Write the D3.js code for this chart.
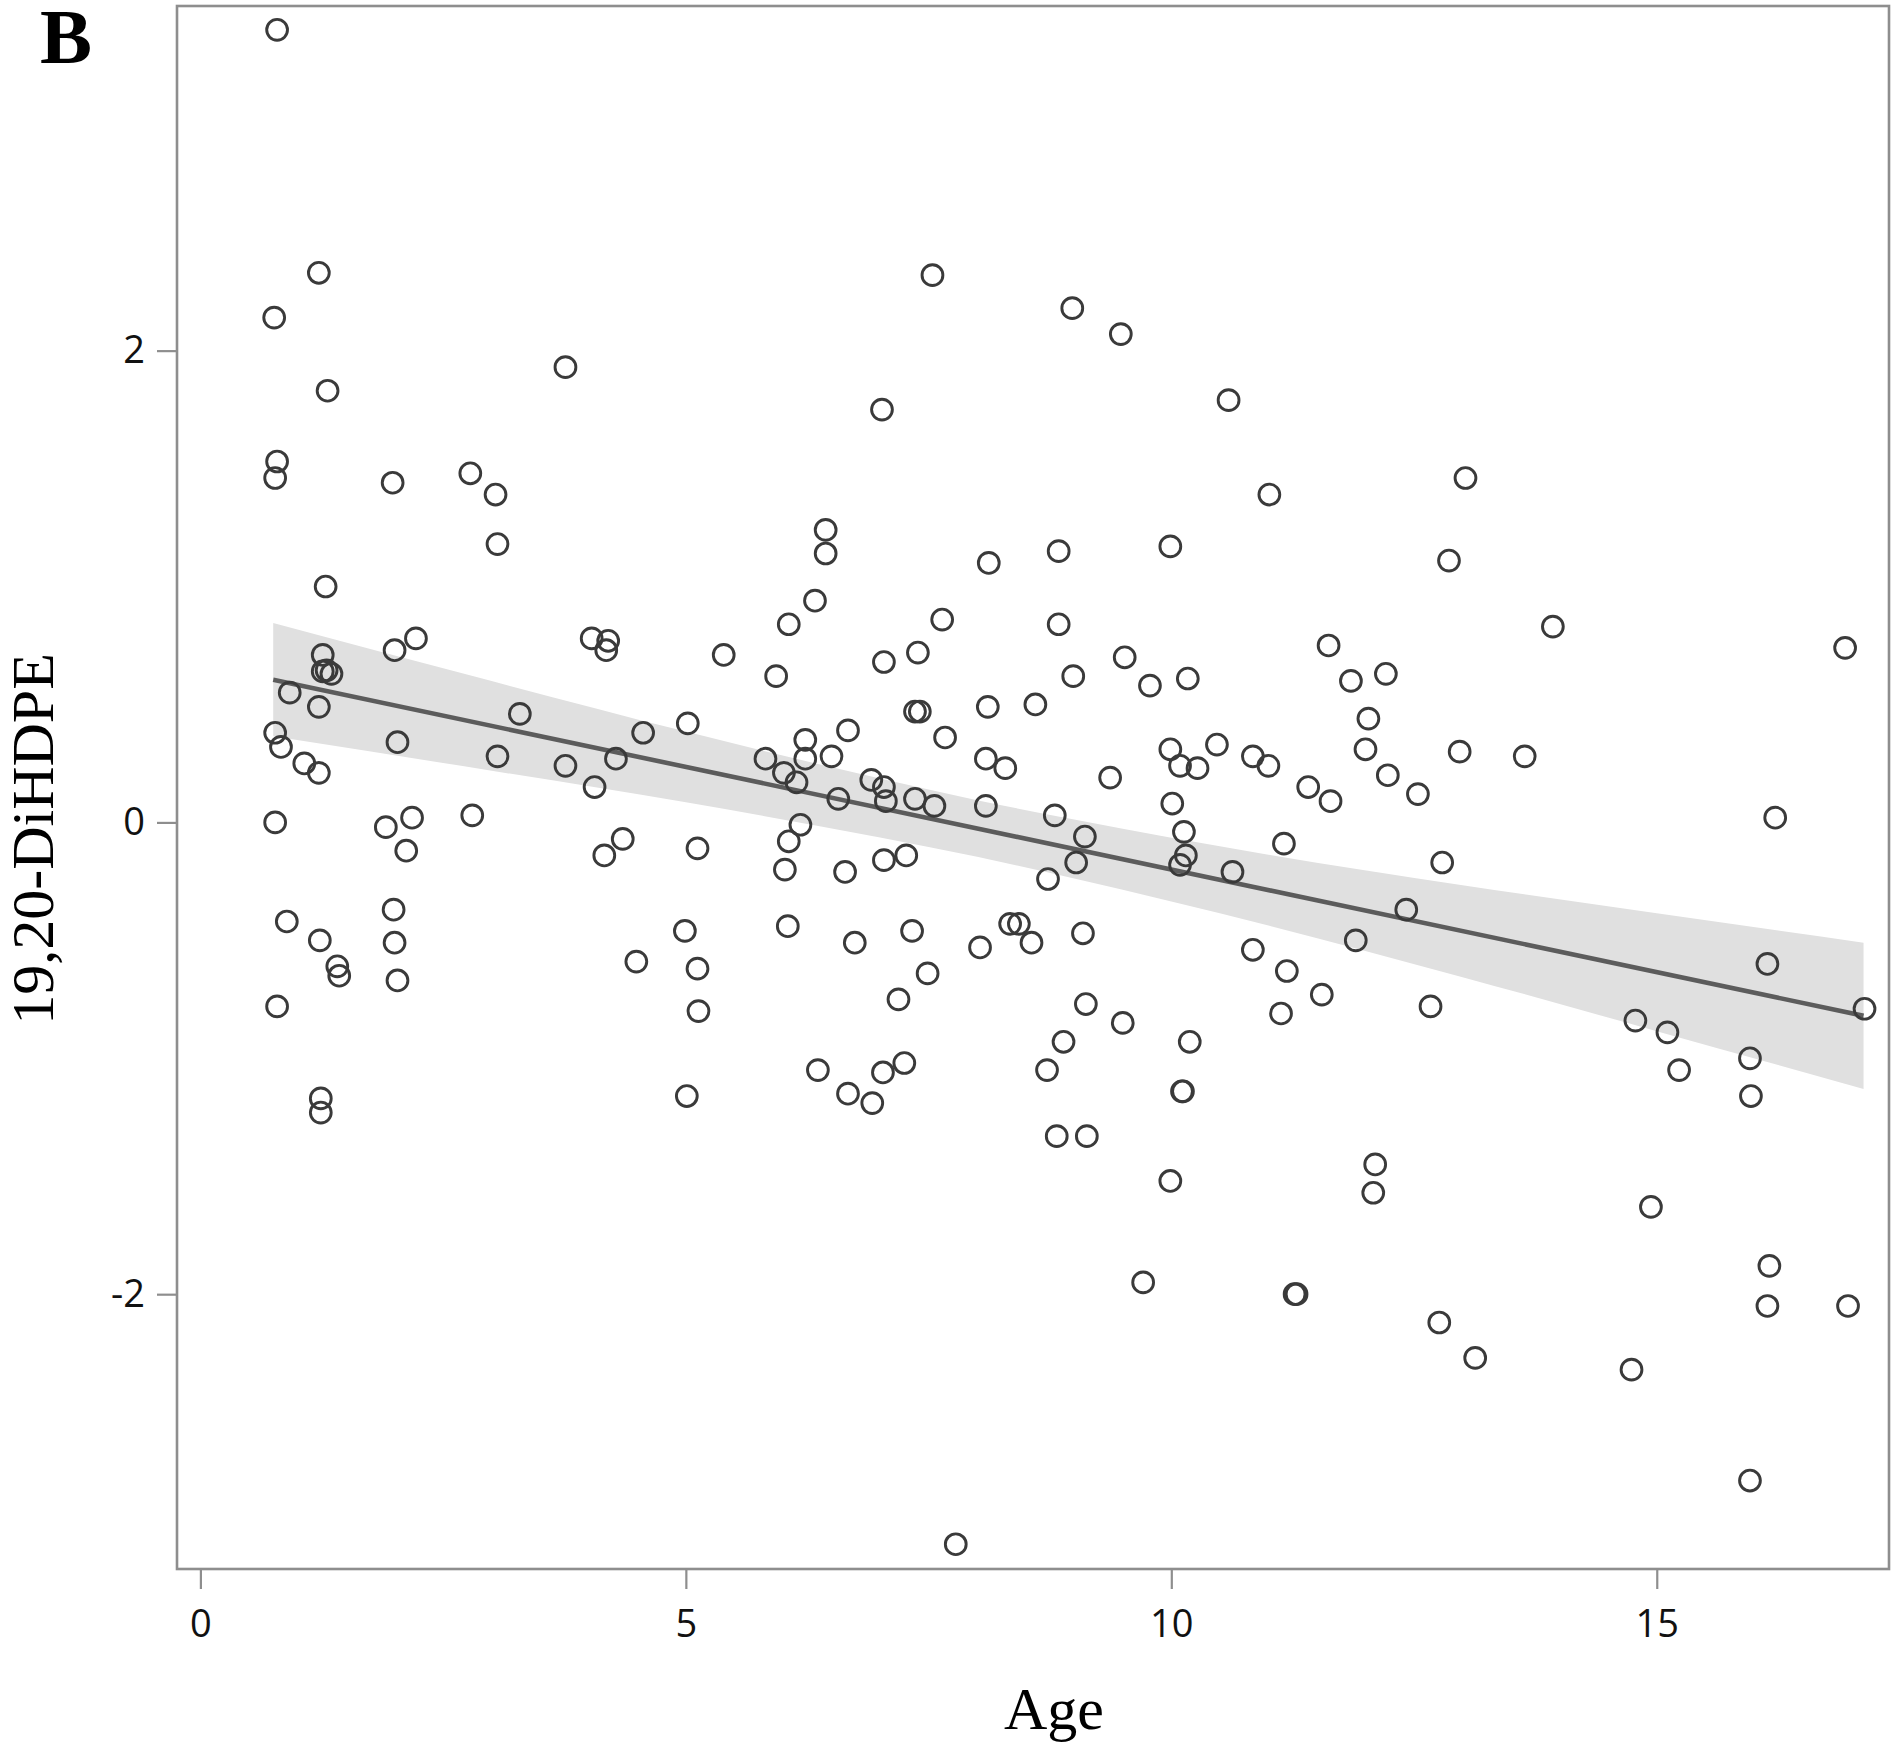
<!DOCTYPE html>
<html>
<head>
<meta charset="utf-8">
<script src="https://cdn.jsdelivr.net/npm/d3@7"></script>
<style>
  html, body { margin: 0; padding: 0; background: #fff; }
  svg { display: block; }
</style>
</head>
<body>
<svg id="chart" width="1902" height="1750"></svg>
<script>
// ---- data ----
const ages = [
  0.79,0.76,0.79,0.77,0.92,0.77,0.83,0.77,0.89,0.79,
  1.07,1.22,1.31,1.29,1.26,1.26,1.35,1.30,1.22,1.22,1.23,1.41,1.43,1.24,1.24,
  1.98,2.00,2.22,2.03,1.91,2.18,2.12,1.99,2.00,2.03,
  2.78,3.04,3.06,3.06,2.80,3.29,
  3.76,3.76,4.03,4.20,4.18,4.06,4.28,4.16,4.35,4.56,4.49,
  5.02,4.99,5.12,5.12,5.13,5.01,5.39,
  5.93,5.82,6.01,6.14,6.06,6.23,6.23,6.18,6.06,6.02,6.05,6.33,6.44,6.44,6.67,6.50,6.57,6.64,6.36,6.67,6.74,
  7.02,7.04,6.91,7.04,7.06,7.04,6.92,7.03,7.25,7.19,7.33,7.27,7.39,7.36,7.41,7.36,7.56,7.49,7.54,7.64,7.67,7.78,8.03,
  8.12,8.11,8.09,8.09,8.29,8.34,8.43,8.56,8.60,8.73,8.72,8.80,8.84,8.84,8.89,8.82,8.98,8.99,9.02,9.11,9.09,9.12,9.13,9.37,
  9.48,9.52,9.50,9.71,9.78,
  9.99,9.99,10.09,10.01,10.13,10.15,10.09,10.17,10.27,10.19,10.11,10.12,9.99,
  10.47,10.59,10.63,10.84,10.84,11.00,11.01,11.16,11.19,11.13,11.27,11.29,11.41,11.55,11.62,11.64,
  11.85,11.90,12.00,12.03,12.21,12.23,12.10,12.08,12.42,12.54,12.67,12.76,12.79,12.86,12.97,13.03,13.13,
  13.64,13.93,14.74,14.78,14.94,15.11,15.23,15.96,15.97,15.96,16.14,16.16,16.14,16.22,16.94,16.97,17.14
];
const values = [
  3.36,2.14,1.53,1.46,0.55,0.38,0.32,0.00,-0.42,-0.78,
  0.25,2.33,1.83,1.00,0.71,0.64,0.63,0.645,0.49,0.21,-0.50,-0.61,-0.65,-1.17,-1.23,
  1.44,0.73,0.78,0.34,-0.02,0.02,-0.12,-0.37,-0.51,-0.67,
  1.48,1.39,1.18,0.28,0.03,0.46,
  1.93,0.24,0.78,0.77,0.73,0.15,0.27,-0.14,-0.07,0.38,-0.59,
  0.42,-0.46,-0.11,-0.62,-0.80,-1.16,0.71,
  0.62,0.27,0.21,0.17,0.84,0.35,0.27,-0.01,-0.08,-0.20,-0.44,0.94,1.24,1.14,0.39,0.28,0.10,-0.21,-1.05,-1.15,-0.51,
  1.75,0.68,0.18,0.15,0.09,-0.16,-1.19,-1.06,-1.02,-0.75,-0.46,-0.14,0.72,0.47,0.47,0.10,0.07,-0.64,2.32,0.86,0.36,-3.06,-0.53,
  1.10,0.49,0.27,0.07,0.23,-0.43,-0.43,-0.51,0.50,-0.24,-1.05,0.03,0.84,1.15,-0.93,-1.33,2.18,0.62,-0.17,-0.06,-0.47,-0.77,-1.33,0.19,
  2.07,0.70,-0.85,-1.95,0.58,
  1.17,0.31,0.24,0.08,-0.04,-0.14,-0.18,0.61,0.23,-0.93,-1.14,-1.14,-1.52,
  0.33,1.79,-0.21,-0.54,0.28,0.24,1.39,-0.09,-0.63,-0.81,-2.00,-2.00,0.15,-0.73,0.75,0.09,
  0.60,-0.50,0.31,0.44,0.63,0.20,-1.45,-1.57,-0.37,0.12,-0.78,-2.12,-0.17,1.11,0.30,1.46,-2.27,
  0.28,0.83,-2.32,-0.84,-1.63,-0.89,-1.05,-1.00,-1.16,-2.79,-0.60,-1.88,-2.05,0.02,0.74,-2.05,-0.79
];

// fitted regression line and its confidence band
const fitAge = [0.75, 17.13];
const fitValue = [0.605, -0.82];
const bandAge  = [0.75, 3, 5, 7, 8, 9, 11, 13, 15, 17.13];
const bandHigh = [0.845, 0.599, 0.385, 0.186, 0.094, 0.012, -0.137, -0.266, -0.385, -0.51];
const bandLow  = [0.365, 0.219, 0.085, -0.064, -0.146, -0.238, -0.437, -0.656, -0.885, -1.13];

const xTicks = [0, 5, 10, 15];
const yTicks = [-2, 0, 2];
const xTitle = "Age";
const yTitle = "19,20-DiHDPE";
const panelLabel = "B";

// ---- layout ----
const L = 177, R = 1889, T = 6, B = 1569;
const svg = d3.select("#chart");

const x = d3.scaleLinear().domain([-0.241, 17.392]).range([L, R]);
const y = d3.scaleLinear().domain([-3.165, 3.461]).range([B, T]);

// band
const bandData = bandAge.map((a, i) => ({a, lo: bandLow[i], hi: bandHigh[i]}));
svg.append("path")
  .datum(bandData)
  .attr("fill", "#e0e0e0")
  .attr("d", d3.area().x(d => x(d.a)).y0(d => y(d.lo)).y1(d => y(d.hi)).curve(d3.curveMonotoneX));

// fit line
const fitData = fitAge.map((a, i) => ({a, v: fitValue[i]}));
svg.append("path")
  .datum(fitData)
  .attr("fill", "none")
  .attr("stroke", "#5c5c5c")
  .attr("stroke-width", 4.6)
  .attr("d", d3.line().x(d => x(d.a)).y(d => y(d.v)));

// points
const pts = ages.map((a, i) => ({a, v: values[i]}));
svg.append("g").selectAll("circle").data(pts).join("circle")
  .attr("cx", d => x(d.a))
  .attr("cy", d => y(d.v))
  .attr("r", 10.4)
  .attr("fill", "none")
  .attr("stroke", "#3a3a3a")
  .attr("stroke-width", 2.9);

// frame
svg.append("rect")
  .attr("x", L).attr("y", T).attr("width", R - L).attr("height", B - T)
  .attr("fill", "none").attr("stroke", "#8e8e8e").attr("stroke-width", 2.6);

// axes
const tickFont = "'Open Sans', sans-serif";
const gx = svg.append("g").attr("transform", `translate(0,${B})`)
  .call(d3.axisBottom(x).tickValues(xTicks).tickFormat(d3.format("d")).tickSizeInner(20).tickSizeOuter(0).tickPadding(21));
const gy = svg.append("g").attr("transform", `translate(${L},0)`)
  .call(d3.axisLeft(y).tickValues(yTicks).tickFormat(d => d < 0 ? "-" + Math.abs(d) : String(d)).tickSizeInner(20).tickSizeOuter(0).tickPadding(12));
[gx, gy].forEach(g => {
  g.select(".domain").remove();
  g.selectAll(".tick line").attr("stroke", "#8e8e8e").attr("stroke-width", 2.2);
  g.selectAll(".tick text").attr("font-family", tickFont).attr("font-size", 38).attr("fill", "#111");
});

// titles
svg.append("text")
  .attr("x", 1054).attr("y", 1729)
  .attr("text-anchor", "middle")
  .attr("font-family", "'Liberation Serif', 'Times New Roman', serif")
  .attr("font-size", 60).attr("fill", "#000")
  .text(xTitle);

svg.append("text")
  .attr("transform", "translate(53,839) rotate(-90)")
  .attr("text-anchor", "middle")
  .attr("font-family", "'Liberation Serif', 'Times New Roman', serif")
  .attr("font-size", 60).attr("fill", "#000")
  .text(yTitle);

svg.append("text")
  .attr("x", 40).attr("y", 63)
  .attr("font-family", "'Liberation Serif', 'Times New Roman', serif")
  .attr("font-weight", "bold")
  .attr("font-size", 78).attr("fill", "#000")
  .text(panelLabel);
</script>
</body>
</html>
